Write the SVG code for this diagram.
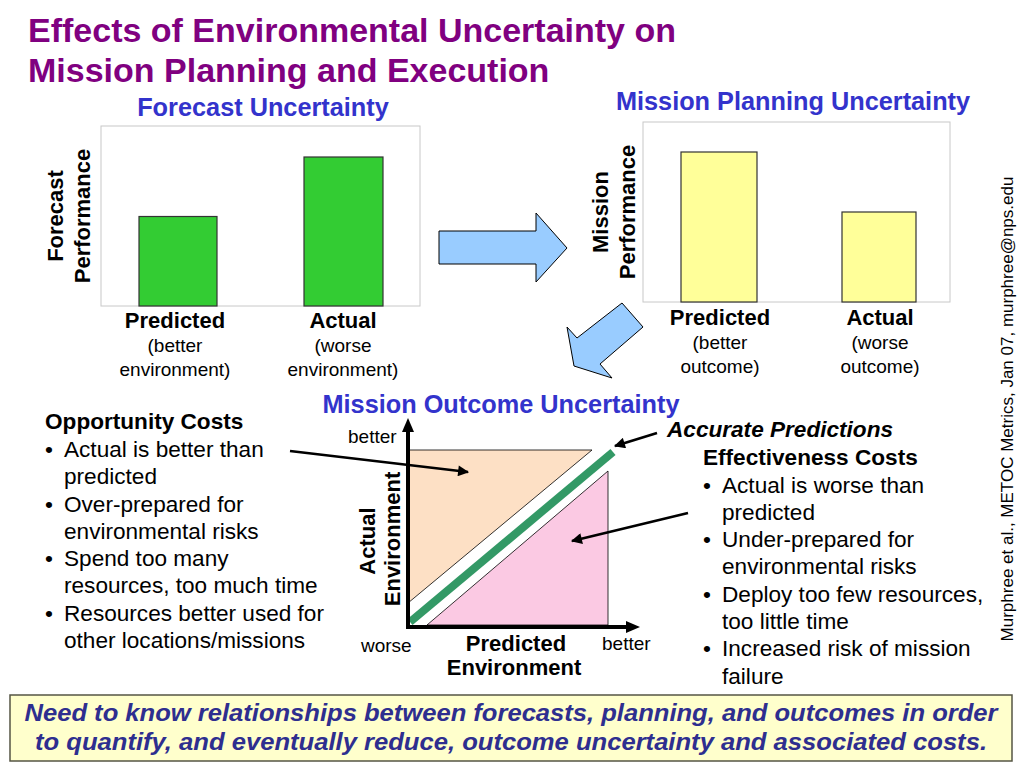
<svg xmlns="http://www.w3.org/2000/svg" width="1024" height="768" viewBox="0 0 1024 768">
<defs>
<style>
text{font-family:"Liberation Sans",Arial,Helvetica,sans-serif;fill:#000}
.title{font-size:34px;font-weight:bold;fill:#800080}
.sub{font-size:25.3px;font-weight:bold;fill:#3333CC}
.ylab{font-size:22px;font-weight:bold;text-anchor:middle}
.xlab{font-size:22px;font-weight:bold;text-anchor:middle}
.xsub{font-size:19px;text-anchor:middle}
.body{font-size:22.6px}
.bold{font-weight:bold}
.axlab{font-size:19px}
.frame{fill:#fff;stroke:#c8c8c8;stroke-width:1}
.gbar{fill:#33CC33;stroke:#333;stroke-width:1.2}
.ybar{fill:#FFFF99;stroke:#333;stroke-width:1.2}
.bigarrow{fill:#99CCFF;stroke:#000;stroke-width:1}
.ann{stroke:#000;stroke-width:2.6;fill:none;marker-end:url(#ah)}
.note{font-size:24px;font-weight:bold;font-style:italic;fill:#2E2E8F;text-anchor:middle}
</style>
<marker id="ah" viewBox="0 0 10 10" refX="9" refY="5" markerWidth="13" markerHeight="11" markerUnits="userSpaceOnUse" orient="auto">
<path d="M0,0 L10,5 L0,10 z" fill="#000"/>
</marker>
</defs>
<rect width="1024" height="768" fill="#fff"/>

<g id="title">
<text class="title" x="28" y="42">Effects of Environmental Uncertainty on</text>
<text class="title" x="28" y="82">Mission Planning and Execution</text>
</g>

<g id="forecast-chart">
<text class="sub" x="263" y="116" text-anchor="middle">Forecast Uncertainty</text>
<rect class="frame" x="101" y="126" width="319" height="180"/>
<rect class="gbar" x="139" y="216.5" width="78" height="89.5"/>
<rect class="gbar" x="304" y="157" width="79" height="149"/>
<text class="ylab" transform="translate(63,216) rotate(-90)">Forecast</text>
<text class="ylab" transform="translate(90,216) rotate(-90)">Performance</text>
<text class="xlab" x="175" y="328">Predicted</text>
<text class="xsub" x="175" y="352">(better</text>
<text class="xsub" x="175" y="376">environment)</text>
<text class="xlab" x="343" y="328">Actual</text>
<text class="xsub" x="343" y="352">(worse</text>
<text class="xsub" x="343" y="376">environment)</text>
</g>

<g id="planning-chart">
<text class="sub" x="793" y="110" text-anchor="middle">Mission Planning Uncertainty</text>
<rect class="frame" x="643" y="122" width="307" height="180"/>
<rect class="ybar" x="681" y="152" width="76" height="150"/>
<rect class="ybar" x="842" y="212" width="74" height="90"/>
<text class="ylab" transform="translate(608,212) rotate(-90)">Mission</text>
<text class="ylab" transform="translate(635,212) rotate(-90)">Performance</text>
<text class="xlab" x="720" y="325">Predicted</text>
<text class="xsub" x="720" y="349">(better</text>
<text class="xsub" x="720" y="373">outcome)</text>
<text class="xlab" x="880" y="325">Actual</text>
<text class="xsub" x="880" y="349">(worse</text>
<text class="xsub" x="880" y="373">outcome)</text>
</g>

<g id="flow-arrows">
<polygon class="bigarrow" points="439,231 536,231 536,213 567,248 536,282 536,264 439,264"/>
<polygon class="bigarrow" points="622,303 643,327 600,364 612,378 574,366 567,327 577,338"/>
</g>

<g id="outcome-chart">
<text class="sub" x="501" y="413" text-anchor="middle">Mission Outcome Uncertainty</text>
<polygon points="408,450 592,450 408,603" fill="#FDE0C5" stroke="#000" stroke-width="0.8"/>
<polygon points="427,625 608,471 608,625" fill="#FBC9E3" stroke="#000" stroke-width="0.8"/>
<line x1="410" y1="622" x2="613" y2="452" stroke="#339966" stroke-width="8"/>
<line x1="408" y1="629" x2="408" y2="430" stroke="#000" stroke-width="4"/>
<polygon points="408,418 402,432 414,432" fill="#000"/>
<line x1="406" y1="627" x2="627" y2="627" stroke="#000" stroke-width="4"/>
<polygon points="640,627 626,621 626,633" fill="#000"/>
<text class="axlab" x="348" y="443">better</text>
<text class="axlab" x="361" y="652">worse</text>
<text class="axlab" x="602" y="650">better</text>
<text class="xlab" x="516" y="651">Predicted</text>
<text class="xlab" x="514" y="675">Environment</text>
<text class="xlab" transform="translate(375,541) rotate(-90)">Actual</text>
<text class="xlab" transform="translate(400,539) rotate(-90)">Environment</text>
</g>

<g id="connectors">
<line class="ann" x1="290" y1="451" x2="468" y2="472"/>
<line class="ann" x1="688" y1="513" x2="572" y2="541"/>
<line class="ann" x1="657" y1="433" x2="615" y2="446"/>
</g>

<g id="opportunity-costs">
<text class="body bold" x="45" y="429">Opportunity Costs</text>
<text class="body" x="45" y="457">•</text>
<text class="body" x="64" y="457">Actual is better than</text>
<text class="body" x="64" y="484">predicted</text>
<text class="body" x="45" y="511.5">•</text>
<text class="body" x="64" y="511.5">Over-prepared for</text>
<text class="body" x="64" y="538.5">environmental risks</text>
<text class="body" x="45" y="566">•</text>
<text class="body" x="64" y="566">Spend too many</text>
<text class="body" x="64" y="593">resources, too much time</text>
<text class="body" x="45" y="621">•</text>
<text class="body" x="64" y="621">Resources better used for</text>
<text class="body" x="64" y="648">other locations/missions</text>
</g>

<g id="accurate-predictions">
<text class="body bold" x="667" y="437" font-style="italic">Accurate Predictions</text>
</g>

<g id="effectiveness-costs">
<text class="body bold" x="703" y="465">Effectiveness Costs</text>
<text class="body" x="703" y="492.5">•</text>
<text class="body" x="722" y="492.5">Actual is worse than</text>
<text class="body" x="722" y="519.5">predicted</text>
<text class="body" x="703" y="547">•</text>
<text class="body" x="722" y="547">Under-prepared for</text>
<text class="body" x="722" y="574">environmental risks</text>
<text class="body" x="703" y="601.5">•</text>
<text class="body" x="722" y="601.5">Deploy too few resources,</text>
<text class="body" x="722" y="629">too little time</text>
<text class="body" x="703" y="656">•</text>
<text class="body" x="722" y="656">Increased risk of mission</text>
<text class="body" x="722" y="684">failure</text>
</g>

<g id="credit">
<text font-size="17" text-anchor="middle" transform="translate(1013,409) rotate(-90)">Murphree et al., METOC Metrics, Jan 07, murphree@nps.edu</text>
</g>

<g id="conclusion">
<rect x="10" y="695" width="1002" height="66" fill="#FFFFCC" stroke="#555544" stroke-width="1.5"/>
<text class="note" x="511" y="721" textLength="973" lengthAdjust="spacingAndGlyphs">Need to know relationships between forecasts, planning, and outcomes in order</text>
<text class="note" x="511" y="750" textLength="952" lengthAdjust="spacingAndGlyphs">to quantify, and eventually reduce, outcome uncertainty and associated costs.</text>
</g>
</svg>
